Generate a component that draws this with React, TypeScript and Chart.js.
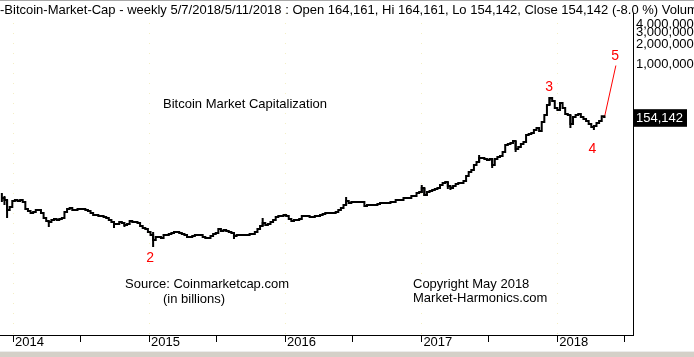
import React, { useEffect, useRef } from 'react';
import { Chart, registerables } from 'chart.js';

Chart.register(...registerables);

// ---------- data (market cap, $ millions, weekly) ----------
const FIRST_WEEK = '2013-12-02';
const closes = [
  9620, 8970, 6340, 7040, 8670, 8970, 8670, 8970, 8370, 6570,
  6130, 5720, 5920, 6340, 6340, 5720, 4810, 4330, 4180, 4480,
  4640, 4480, 4640, 4810, 5920, 6570, 6800, 6340, 6340, 6570,
  6570, 6570, 6340, 6130, 5720, 5330, 5330, 5150, 5150, 4980,
  4810, 4480, 4180, 3900, 3900, 4180, 4040, 3770, 3900, 4330,
  4180, 4180, 4040, 3640, 3400, 3280, 2960, 2670, 2240, 2490,
  2490, 2400, 2670, 2670, 2760, 2860, 2960, 2960, 2860, 2760,
  2670, 2490, 2490, 2580, 2670, 2670, 2670, 2490, 2400, 2400,
  2580, 2760, 2860, 3280, 3060, 3170, 3060, 2960, 2860, 2580,
  2670, 2670, 2670, 2670, 2670, 2760, 2760, 2960, 3280, 3640,
  4040, 3770, 3900, 4180, 4480, 4980, 5150, 5150, 5330, 5150,
  4640, 4330, 4480, 4480, 4640, 5150, 5150, 5150, 4980, 4980,
  5150, 5150, 5330, 5520, 5720, 5720, 5720, 5720, 5920, 6340,
  6800, 7550, 8670, 8090, 8370, 8370, 8370, 8370, 8370, 7290,
  7550, 7550, 7550, 7550, 7810, 8090, 8090, 8090, 8090, 8370,
  8370, 8970, 8970, 8970, 9620, 9620, 9620, 10300, 10300, 11400,
  11800, 13600, 10700, 11800, 12300, 12700, 13100, 13600, 15100, 16200,
  16800, 14600, 13600, 14600, 15600, 16200, 16200, 17300, 20600, 23700,
  25400, 30200, 33500, 38500, 38500, 37200, 35900, 37200, 30200, 37200,
  39900, 41300, 47400, 60400, 62600, 64800, 69400, 52600, 56400, 62600,
  67100, 85500, 88500, 91600, 101700, 109000, 98200, 134200, 171000, 241900,
  308400, 277900, 218000, 203400, 259300, 218000, 177100, 171000, 125200, 159600,
  171000, 177100, 159600, 148900, 138900, 125200, 112800, 116800, 129600, 138900,
  164161, 154142,
];
const spikeWeeks = [0, 1, 2, 18, 43, 47, 58, 89, 100, 132, 161, 162, 171, 172, 183, 188, 196, 197, 210, 218, 227, 231];
const spikeLows = [8370, 7550, 4810, 3520, 3400, 3520, 1760, 2320, 3640, 7550, 11400, 10300, 13100, 12700, 33500, 27200, 64800, 47400, 241900, 109000, 101700, 154142];
const spikeHighs = [11400, 10300, 8970, 4180, 3900, 3900, 2960, 2860, 4810, 9960, 15100, 13600, 16800, 14600, 42700, 37200, 71900, 69400, 319300, 171000, 116800, 164161];

const yearLabels = ['2014', '2015', '2016', '2017', '2018'];
const yTickValues = [1000000, 2000000, 3000000, 4000000];
const lastClose = 154142;
const xRange = ['2013-11-27', '2018-07-23'];
const yRange = [83.2, 5875000];

const projectionDate = '2018-06-07';
const projectionValue = 950000;

const waveLabels = ['2', '3', '4', '5'];
const waveDates = ['2015-01-04', '2017-12-10', '2018-04-05', '2018-06-05'];
const waveValues = [1200, 452000, 52600, 1320000];

const headerText =
  '-Bitcoin-Market-Cap - weekly 5/7/2018/5/11/2018 : Open 164,161, Hi 164,161, Lo 154,142, Close 154,142 (-8.0 %) Volume';
const noteTexts = [
  'Bitcoin Market Capitalization',
  'Source: Coinmarketcap.com',
  '(in billions)',
  'Copyright May 2018',
  'Market-Harmonics.com',
];

// ---------- layout (pixels) ----------
const W = 694;
const H = 357;
const notePos: [number, number][] = [
  [163, 104],
  [125, 284],
  [163, 299],
  [413, 284],
  [413, 298],
];
const FONT = '"Liberation Sans", Arial, Helvetica, sans-serif';

const DAY = 86400000;
const weekMs = (i: number) => Date.parse(FIRST_WEEK) + i * 7 * DAY;
const fmt = (v: number) => Math.round(v).toLocaleString('en-US');

const yearMs = yearLabels.map((y) => Date.UTC(+y, 0, 1));
const halfMs = yearLabels.map((y) => Date.UTC(+y, 6, 1));

const overlayPlugin = {
  id: 'overlay',
  afterDraw(chart: any) {
    const { ctx, scales } = chart;
    const xs = scales.x;
    const ys = scales.y;
    ctx.save();
    // top rule
    ctx.fillStyle = '#a8a8a8';
    ctx.fillRect(0, 0, W, 1);
    // header
    ctx.font = `13px ${FONT}`;
    ctx.fillStyle = '#000';
    ctx.textBaseline = 'middle';
    ctx.textAlign = 'left';
    ctx.fillText(headerText, 0, 10);
    // notes
    noteTexts.forEach((t, i) => {
      ctx.fillText(t, notePos[i][0], notePos[i][1]);
    });
    // wave labels
    ctx.fillStyle = '#ff0000';
    ctx.font = `14px ${FONT}`;
    ctx.textAlign = 'center';
    waveLabels.forEach((t, i) => {
      const px = xs.getPixelForValue(Date.parse(waveDates[i]));
      const py = ys.getPixelForValue(waveValues[i]);
      ctx.fillText(t, px, py);
    });
    // bottom band
    ctx.fillStyle = '#ececec';
    ctx.fillRect(0, 351, W, 1);
    ctx.fillStyle = '#d4d0c8';
    ctx.fillRect(0, 352, W, H - 352);
    ctx.restore();
  },
};

export default function App() {
  const ref = useRef<HTMLCanvasElement | null>(null);

  useEffect(() => {
    if (!ref.current) return;
    Chart.defaults.font.family = FONT;

    const closeData = closes.map((v, i) => ({ x: weekMs(i), y: v }));
    const spikeData: any[] = [];
    spikeWeeks.forEach((w, k) => {
      spikeData.push({ x: weekMs(w), y: spikeLows[k] });
      spikeData.push({ x: weekMs(w), y: spikeHighs[k] });
      spikeData.push({ x: weekMs(w), y: null });
    });
    const lastIdx = closes.length - 1;
    const projData = [
      { x: weekMs(lastIdx), y: closes[lastIdx] },
      { x: Date.parse(projectionDate), y: projectionValue },
    ];

    const chart = new Chart(ref.current, {
      type: 'line',
      data: {
        datasets: [
          {
            data: closeData,
            borderColor: '#000',
            borderWidth: 2,
            pointRadius: 0,
            stepped: true,
            borderJoinStyle: 'miter',
          } as any,
          {
            data: spikeData,
            borderColor: '#000',
            borderWidth: 2,
            pointRadius: 0,
            spanGaps: false,
          },
          {
            data: projData,
            borderColor: '#ff0000',
            borderWidth: 1,
            pointRadius: 0,
          },
        ],
      },
      options: {
        responsive: false,
        animation: false,
        devicePixelRatio: 1,
        events: [],
        layout: { padding: { top: 13, left: 0, right: 0, bottom: 0 } },
        plugins: { legend: { display: false }, tooltip: { enabled: false } },
        scales: {
          x: {
            type: 'linear',
            min: Date.parse(xRange[0]),
            max: Date.parse(xRange[1]),
            afterBuildTicks: (s: any) => {
              const t: any[] = [];
              yearMs.forEach((v, i) => {
                t.push({ value: v });
                if (halfMs[i] < s.max) t.push({ value: halfMs[i] });
              });
              s.ticks = t;
            },
            afterFit: (s: any) => {
              s.height = 22;
            },
            ticks: {
              autoSkip: false,
              maxRotation: 0,
              align: 'start',
              labelOffset: 2,
              padding: -7,
              color: '#000',
              font: { size: 13 },
              callback: (v: any) => {
                const i = yearMs.indexOf(v);
                return i >= 0 ? yearLabels[i] : '';
              },
            },
            grid: {
              drawOnChartArea: true,
              drawTicks: true,
              tickLength: 7,
              tickColor: '#000',
              color: (c: any) =>
                c.tick && yearMs.indexOf(c.tick.value) >= 0 ? 'rgba(240,232,170,0.7)' : 'rgba(0,0,0,0)',
              lineWidth: 1,
            },
            border: { display: true, color: '#000', width: 1, dash: [1, 9] },
          },
          y: {
            type: 'logarithmic',
            position: 'right',
            min: yRange[0],
            max: yRange[1],
            afterBuildTicks: (s: any) => {
              s.ticks = [...yTickValues, lastClose].map((v) => ({ value: v }));
            },
            afterFit: (s: any) => {
              s.width = 61;
            },
            ticks: {
              autoSkip: false,
              padding: 3,
              font: { size: 13 },
              color: (c: any) => (c.tick && c.tick.value === lastClose ? '#fff' : '#000'),
              showLabelBackdrop: (c: any) => !!(c.tick && c.tick.value === lastClose),
              backdropColor: '#000',
              backdropPadding: { left: 2, right: 4, top: 1, bottom: 1 },
              callback: (v: any) => fmt(Number(v)),
            },
            grid: { display: false, drawTicks: false },
            border: { display: true, color: '#000', width: 1 },
          },
        },
      } as any,
      plugins: [overlayPlugin],
    });
    return () => chart.destroy();
  }, []);

  return (
    <div
      style={{
        position: 'absolute',
        left: 0,
        top: 0,
        width: W,
        height: H,
        background: '#fff',
        overflow: 'hidden',
      }}
    >
      <canvas ref={ref} width={W} height={H} style={{ display: 'block', width: W, height: H }} />
    </div>
  );
}
